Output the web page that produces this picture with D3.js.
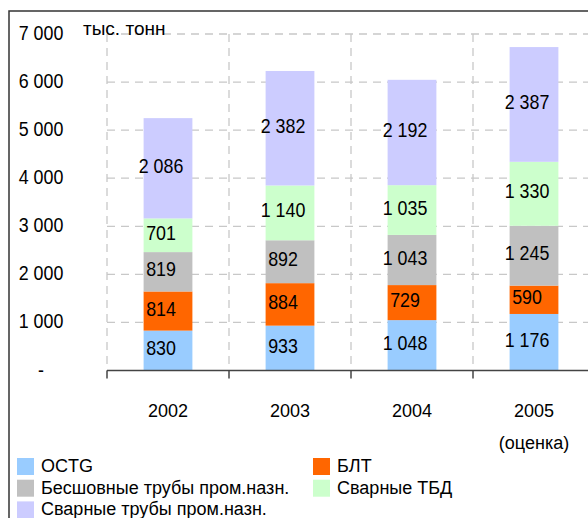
<!DOCTYPE html>
<html>
<head>
<meta charset="utf-8">
<script src="https://cdn.jsdelivr.net/npm/d3@7"></script>
<style>
  body { margin: 0; background: #fff; }
  svg { display: block; font-family: "Liberation Sans", Arial, sans-serif; }
</style>
</head>
<body>
<div id="chart"></div>
<script>
// Data
const years = ["2002", "2003", "2004", "2005"];
const seriesNames = ["OCTG", "БЛТ", "Бесшовные трубы пром.назн.", "Сварные ТБД", "Сварные трубы пром.назн."];
const octg = [830, 933, 1048, 1176];
const blt = [814, 884, 729, 590];
const seamless = [819, 892, 1043, 1245];
const weldedTbd = [701, 1140, 1035, 1330];
const weldedInd = [2086, 2382, 2192, 2387];
const yTicks = [0, 1000, 2000, 3000, 4000, 5000, 6000, 7000];
const colors = ["#99ccff", "#ff6600", "#c0c0c0", "#ccffcc", "#ccccff"];

const width = 588, height = 518;
const plot = { left: 107, right: 595, top: 34, bottom: 370.5 };

const svg = d3.select("#chart")
  .append("svg")
  .attr("width", width)
  .attr("height", height);

// build rows for d3.stack
const keys = d3.range(seriesNames.length);
const allSeries = [octg, blt, seamless, weldedTbd, weldedInd];
const rows = years.map((yr, i) => {
  const r = { year: yr };
  keys.forEach(k => r[k] = allSeries[k][i]);
  return r;
});
const stacked = d3.stack().keys(keys)(rows);

const x = d3.scaleBand()
  .domain(years)
  .range([plot.left, plot.right])
  .padding(0);

const y = d3.scaleLinear()
  .domain([0, 7000])
  .range([plot.bottom, plot.top]);

const fmt = d3.formatLocale({ decimal: ",", thousands: " ", grouping: [3], currency: ["", ""] }).format(",d");

// text helper: horizontally condensed text like the original
function label(parent, px, py, str, size, sx, anchor) {
  return parent.append("text")
    .attr("transform", `translate(${px},${py}) scale(${sx},1)`)
    .attr("text-anchor", anchor)
    .style("font-size", size + "px")
    .attr("fill", "#000")
    .text(str);
}

// frame
svg.append("path")
  .attr("d", `M9,${height + 5}V11H${width + 5}`)
  .attr("fill", "none")
  .attr("stroke", "#333")
  .attr("stroke-width", 1.5);

// horizontal grid
svg.append("g")
  .selectAll("line")
  .data(yTicks.filter(t => t > 0))
  .join("line")
  .attr("x1", plot.left)
  .attr("x2", width + 5)
  .attr("y1", d => y(d))
  .attr("y2", d => y(d))
  .attr("stroke", "#c8c8c8")
  .attr("stroke-width", 1.3)
  .attr("stroke-dasharray", "8,6");

// vertical grid at category borders
const borders = years.map(d => x(d)).concat([x(years[years.length - 1]) + x.bandwidth()]);
svg.append("g")
  .selectAll("line")
  .data(borders)
  .join("line")
  .attr("x1", d => d)
  .attr("x2", d => d)
  .attr("y1", y(7000))
  .attr("y2", y(0))
  .attr("stroke", "#c8c8c8")
  .attr("stroke-width", 1.3)
  .attr("stroke-dasharray", "8,6");

// bars
const barW = x.bandwidth() * 0.4;
const layers = svg.append("g")
  .selectAll("g")
  .data(stacked)
  .join("g")
  .attr("fill", d => colors[d.key]);

layers.selectAll("rect")
  .data(d => d)
  .join("rect")
  .attr("x", d => x(d.data.year) + (x.bandwidth() - barW) / 2)
  .attr("width", barW)
  .attr("y", d => y(d[1]))
  .attr("height", d => y(d[0]) - y(d[1]));

// x axis line and ticks
svg.append("line")
  .attr("x1", plot.left)
  .attr("x2", width + 5)
  .attr("y1", y(0))
  .attr("y2", y(0))
  .attr("stroke", "#444")
  .attr("stroke-width", 1.5);

svg.append("g")
  .selectAll("line")
  .data(borders)
  .join("line")
  .attr("x1", d => d)
  .attr("x2", d => d)
  .attr("y1", y(0))
  .attr("y2", y(0) + 8)
  .attr("stroke", "#444")
  .attr("stroke-width", 1.5);

// value labels
const labelsG = svg.append("g");
stacked.forEach(layer => {
  layer.forEach(d => {
    const cx = x(d.data.year) + x.bandwidth() / 2 - 7;
    const cy = (y(d[0]) + y(d[1])) / 2 - 3;
    label(labelsG, cx, cy + 7.5, fmt(d[1] - d[0]), 21, 0.85, "middle");
  });
});

// y tick labels
const yLab = svg.append("g");
yTicks.forEach(t => {
  label(yLab, 41, y(t) + 6, t === 0 ? "-" : fmt(t), 21, 0.85, "middle");
});

// unit
label(svg, 83, 35, "тыс. тонн", 19, 1, "start");

// x labels
const xLab = svg.append("g");
years.forEach(yr => {
  label(xLab, x(yr) + x.bandwidth() / 2, 417, yr, 18, 1, "middle");
});
label(xLab, x("2005") + x.bandwidth() / 2, 449, "(оценка)", 18, 1, "middle");

// legend, two columns row by row
const legCols = [17, 313];
const legRows = [472, 493.7, 515.4];
const legend = svg.append("g");
seriesNames.forEach((name, i) => {
  const cx = legCols[i % 2], by = legRows[Math.floor(i / 2)];
  legend.append("rect")
    .attr("x", cx)
    .attr("y", by - 14)
    .attr("width", 17)
    .attr("height", 17)
    .attr("fill", colors[i]);
  label(legend, cx + 24, by, name, 18, 1, "start");
});
</script>
</body>
</html>
